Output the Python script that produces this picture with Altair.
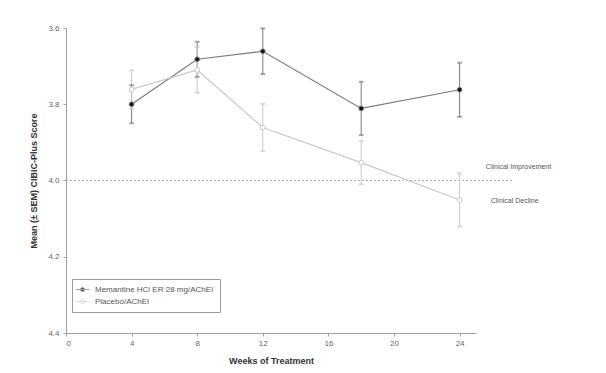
import altair as alt
import pandas as pd

weeks = [4, 8, 12, 18, 24]
mem_mean = [3.800, 3.682, 3.661, 3.811, 3.762]
mem_sem = [0.050, 0.046, 0.060, 0.070, 0.071]
pla_mean = [3.761, 3.710, 3.861, 3.953, 4.051]
pla_sem = [0.050, 0.060, 0.062, 0.057, 0.070]
series_names = ["Memantine HCl ER 28 mg/AChEI", "Placebo/AChEI"]

x_ticks = [0, 4, 8, 12, 16, 20, 24]
y_ticks = [3.6, 3.8, 4.0, 4.2, 4.4]

ref_value = [4.0]
ann_text = ["Clinical Improvement", "Clinical Decline"]
ann_x = [25.6, 25.9]
ann_y = [3.965, 4.054]

rows = []
for name, means, sems in [(series_names[0], mem_mean, mem_sem), (series_names[1], pla_mean, pla_sem)]:
    for w, m, s in zip(weeks, means, sems):
        rows.append({"series": name, "week": w, "mean": m, "lo": m - s, "hi": m + s})
df = pd.DataFrame(rows)

FONT = "Liberation Sans"
xs = alt.Scale(domain=[0, 25], nice=False, zero=False)
ys = alt.Scale(domain=[3.6, 4.4], reverse=True, nice=False, zero=False)

fill_sc = alt.Scale(domain=series_names, range=["#111111", "#ffffff"])
stroke_sc = alt.Scale(domain=series_names, range=["#7a7a7a", "#c8c8c8"])

sym = "M-1.9,0H-0.6A0.6,0.6,0,1,1,0.6,0H1.9M0.6,0A0.6,0.6,0,1,1,-0.6,0Z"
LEG = alt.Legend(title=None, orient="none", legendX=6, legendY=251,
                 symbolType=sym, symbolSize=50, symbolStrokeWidth=1,
                 labelFont=FONT, labelFontSize=8, labelColor="#555",
                 strokeColor="#9a9a9a", padding=6, fillColor="white",
                 labelOffset=8, rowPadding=3)

X = alt.X("week:Q", scale=xs, title="Weeks of Treatment",
          axis=alt.Axis(values=x_ticks, grid=False, domainColor="#9aa3a3", tickColor="#9aa3a3",
                        labelColor="#666", labelFontSize=8, labelFont=FONT, tickSize=3,
                        titleFont=FONT, titleFontSize=9, titleFontWeight="bold", titleColor="#333",
                        titlePadding=9, labelPadding=3))
Y = alt.Y("mean:Q", scale=ys, title="Mean (± SEM) CIBIC-Plus Score",
          axis=alt.Axis(values=y_ticks, format=".1f", grid=False, domainColor="#9aa3a3", tickColor="#9aa3a3",
                        labelColor="#666", labelFontSize=8, labelFont=FONT, tickSize=3,
                        titleFont=FONT, titleFontSize=9, titleFontWeight="bold", titleColor="#333",
                        titlePadding=9, labelPadding=4))

STROKE = alt.Stroke("series:N", scale=stroke_sc, legend=LEG)
base = alt.Chart(df)

err = base.mark_rule(strokeWidth=1).encode(
    x=alt.X("week:Q", scale=xs), y=alt.Y("lo:Q", scale=ys), y2="hi:Q", stroke=STROKE)
cap_lo = base.mark_tick(orient="horizontal", size=4, thickness=1, filled=False).encode(
    x=alt.X("week:Q", scale=xs), y=alt.Y("lo:Q", scale=ys), stroke=STROKE)
cap_hi = base.mark_tick(orient="horizontal", size=4, thickness=1, filled=False).encode(
    x=alt.X("week:Q", scale=xs), y=alt.Y("hi:Q", scale=ys), stroke=STROKE)

lines = base.mark_line(strokeWidth=1.2).encode(x=X, y=Y, stroke=STROKE, detail="series:N")

pts = base.mark_point(size=22, strokeWidth=1, opacity=1).encode(
    x=alt.X("week:Q", scale=xs), y=alt.Y("mean:Q", scale=ys),
    stroke=STROKE,
    fill=alt.Fill("series:N", scale=fill_sc, legend=LEG),
)

ref_df = pd.DataFrame({"y": ref_value, "x0": [0], "x1": [27.2]})
ref = alt.Chart(ref_df).mark_rule(strokeDash=[2, 2], color="#a9b0b0", strokeWidth=1).encode(
    x=alt.X("x0:Q", scale=xs), x2="x1:Q", y=alt.Y("y:Q", scale=ys))

ann_df = pd.DataFrame({"t": ann_text, "x": ann_x, "y": ann_y})
ann = alt.Chart(ann_df).mark_text(align="left", baseline="middle", fontSize=7, font=FONT, color="#555").encode(
    x=alt.X("x:Q", scale=xs), y=alt.Y("y:Q", scale=ys), text="t:N")

chart = alt.layer(ref, err, cap_lo, cap_hi, lines, pts, ann).properties(
    width=410, height=305,
    background="white",
    autosize=alt.AutoSizeParams(type="none"),
    padding={"left": 58, "top": 20, "right": 122, "bottom": 32},
).configure_view(stroke=None)

chart.save("out.html", embed_options={"renderer": "svg", "actions": False})
